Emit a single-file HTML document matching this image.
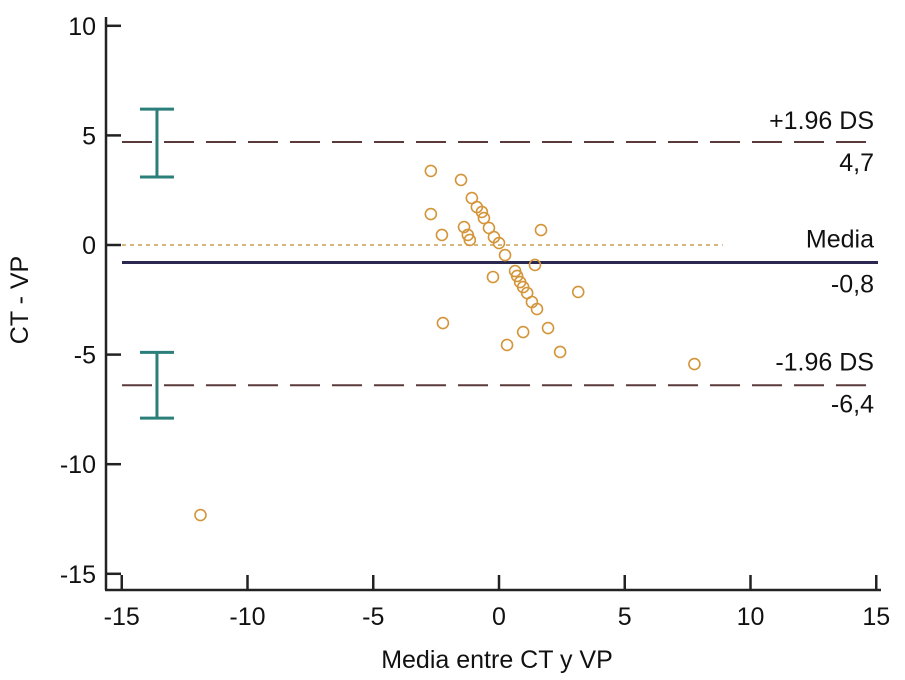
<!DOCTYPE html>
<html><head><meta charset="utf-8"><style>
html,body{margin:0;padding:0;background:#fff;}
svg{display:block;font-family:"Liberation Sans",sans-serif;}
</style></head><body>
<svg id="chart" width="905" height="680" viewBox="0 0 905 680"></svg>
<script>
const xs = [-2.71,-1.51,-1.08,-0.88,-0.68,-0.60,-0.40,-0.20,0.0,0.24,-2.71,-1.39,-1.24,-1.16,-2.27,1.67,1.43,-0.24,0.64,0.72,0.84,0.96,1.12,1.31,1.51,3.15,-2.23,0.96,1.95,0.32,2.43,7.77,-11.87];
const ys = [3.38,2.97,2.14,1.73,1.51,1.23,0.78,0.36,0.09,-0.46,1.41,0.82,0.46,0.23,0.46,0.68,-0.91,-1.46,-1.19,-1.41,-1.69,-1.92,-2.19,-2.60,-2.92,-2.14,-3.56,-3.97,-3.79,-4.56,-4.88,-5.43,-12.32];
const xTicks = [-15,-10,-5,0,5,10,15];
const yTicks = [10,5,0,-5,-10,-15];
const meanVal = -0.8, upperVal = 4.7, lowerVal = -6.4;
const upperCI = [6.2,3.1], lowerCI = [-4.9,-7.9], ciX = -13.6;

const NS="http://www.w3.org/2000/svg";
const svg=document.getElementById('chart');
const X=v=>499+v*25.15, Y=v=>245-v*21.92;
function el(t,a,txt){const e=document.createElementNS(NS,t);for(const k in a)e.setAttribute(k,a[k]);if(txt!==undefined)e.textContent=txt;svg.appendChild(e);return e;}

let e;
e=el('line',{x1:106,y1:17,x2:106,y2:590,stroke:'#222','stroke-width':2.5});


e=el('line',{x1:105,y1:590,x2:881,y2:590,stroke:'#222','stroke-width':2.5});


xTicks.forEach(t=>{
  let l=el('line',{x1:X(t),y1:590,x2:X(t),y2:575,stroke:'#222','stroke-width':2.5});
  
  
  let tx=el('text',{x:X(t),y:625,'text-anchor':'middle','font-size':25,fill:'#111'},String(t));
  
  
});
yTicks.forEach(t=>{
  let l=el('line',{x1:106,y1:Y(t),x2:121,y2:Y(t),stroke:'#222','stroke-width':2.5});
  
  
  let tx=el('text',{x:96,y:Y(t)+9,'text-anchor':'end','font-size':25,fill:'#111'},String(t));
  
  
});
e=el('text',{x:497,y:668,'text-anchor':'middle','font-size':25,fill:'#111'},'Media entre CT y VP');


e=el('text',{x:0,y:0,'text-anchor':'middle','font-size':25,fill:'#111',transform:'translate(28,300) rotate(-90)'},'CT - VP');



e=el('line',{x1:122,y1:Y(0),x2:X(8.9),y2:Y(0),stroke:'#c9a050','stroke-width':1.5,'stroke-dasharray':'4,4'});


[[upperVal,'upper-limit-line'],[lowerVal,'lower-limit-line']].forEach(([v,n])=>{
  let l=el('line',{x1:122,y1:Y(v),x2:878,y2:Y(v),stroke:'#5a3a3a','stroke-width':2,'stroke-dasharray':'30,12'});
  
  
});
e=el('line',{x1:122,y1:Y(meanVal),x2:878,y2:Y(meanVal),stroke:'#2a2850','stroke-width':3});



[[upperCI,'upper-ci-bar'],[lowerCI,'lower-ci-bar']].forEach(([c,n])=>{
  const g=document.createElementNS(NS,'g');svg.appendChild(g);
  
  
  const cx=X(ciX);
  [[cx,Y(c[0]),cx,Y(c[1])],[cx-17,Y(c[0]),cx+17,Y(c[0])],[cx-17,Y(c[1]),cx+17,Y(c[1])]].forEach(p=>{
    const l=document.createElementNS(NS,'line');
    l.setAttribute('x1',p[0]);l.setAttribute('y1',p[1]);l.setAttribute('x2',p[2]);l.setAttribute('y2',p[3]);
    l.setAttribute('stroke','#2a7f7a');l.setAttribute('stroke-width',3);g.appendChild(l);
  });
});

const labs=[['+1.96 DS',Y(upperVal)-13,'upper-limit-label'],[upperVal.toFixed(1).replace('.',','),Y(upperVal)+29,'upper-limit-value'],
['Media',Y(meanVal)-15,'mean-label'],[meanVal.toFixed(1).replace('.',','),Y(meanVal)+30,'mean-value'],
['-1.96 DS',Y(lowerVal)-15,'lower-limit-label'],[lowerVal.toFixed(1).replace('.',','),Y(lowerVal)+27,'lower-limit-value']];
labs.forEach(([t,y,n])=>{
  let tx=el('text',{x:874,y:y,'text-anchor':'end','font-size':25,fill:'#111'},t);
  
  
});

xs.forEach((x,i)=>{
  let c=el('circle',{cx:X(x),cy:Y(ys[i]),r:5.5,fill:'none',stroke:'#d4953a','stroke-width':1.6});
  
  
});
</script>
</body></html>
